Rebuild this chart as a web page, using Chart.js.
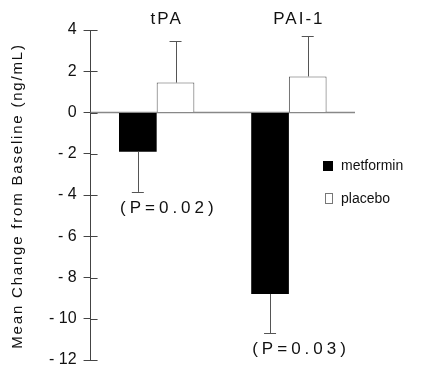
<!DOCTYPE html>
<html>
<head>
<meta charset="utf-8">
<script src="https://cdn.jsdelivr.net/npm/chart.js@4.4.1/dist/chart.umd.min.js"></script>
<style>
  html, body { margin: 0; padding: 0; background: #fff; }
  #wrap { width: 435px; height: 375px; position: relative; }
</style>
</head>
<body>
<div id="wrap"><canvas id="chart"></canvas></div>
<script>
// data
const categories = ["tPA", "PAI-1"];
const metforminMeans = [-1.9, -8.8];
const metforminErrors = [1.95, 1.9];
const placeboMeans = [1.45, 1.75];
const placeboErrors = [2.0, 1.95];
const pValueLabels = ["(P=0.02)", "(P=0.03)"];
const yMin = -12;
const yMax = 4;
const yStep = 2;
const yTitle = "Mean Change from Baseline (ng/mL)";

const FONT = "'Liberation Sans', Arial, Helvetica, sans-serif";
const AXIS_COLOR = "#444";

// error bars, p values, zero line, titles and legend
const annotations = {
  id: "annotations",
  beforeDatasetsDraw(chart) {
    const { ctx, chartArea, scales } = chart;
    const y0 = scales.y.getPixelForValue(0);
    ctx.save();
    ctx.strokeStyle = "#888";
    ctx.lineWidth = 1.5;
    ctx.beginPath();
    ctx.moveTo(chartArea.left, y0);
    ctx.lineTo(chartArea.right, y0);
    ctx.stroke();
    ctx.restore();
  },
  afterDatasetsDraw(chart) {
    const { ctx, chartArea, scales } = chart;
    const yScale = scales.y;
    const xScale = scales.x;
    ctx.save();

    // one-sided error bars
    chart.data.datasets.forEach((ds, di) => {
      const meta = chart.getDatasetMeta(di);
      meta.data.forEach((bar, i) => {
        const v = ds.data[i];
        const err = ds.errors[i];
        const end = v < 0 ? v - err : v + err;
        const yBar = yScale.getPixelForValue(v);
        const yEnd = yScale.getPixelForValue(end);
        ctx.strokeStyle = "#555";
        ctx.lineWidth = 1;
        ctx.beginPath();
        ctx.moveTo(Math.round(bar.x) + 0.5, yBar);
        ctx.lineTo(Math.round(bar.x) + 0.5, yEnd);
        ctx.moveTo(bar.x - 6, Math.round(yEnd) + 0.5);
        ctx.lineTo(bar.x + 6, Math.round(yEnd) + 0.5);
        ctx.stroke();

        if (ds.pLabels) {
          ctx.fillStyle = "#111";
          ctx.font = "17px " + FONT;
          ctx.letterSpacing = "4px";
          ctx.textAlign = "left";
          ctx.textBaseline = "middle";
          ctx.fillText(ds.pLabels[i], bar.x - bar.width / 2 + 1, yEnd + 16);
        }
      });
    });

    // inner half of the cross ticks on the y axis
    ctx.strokeStyle = AXIS_COLOR;
    ctx.lineWidth = 1;
    yScale.ticks.forEach((t) => {
      const y = Math.round(yScale.getPixelForValue(t.value)) + 0.5;
      ctx.beginPath();
      ctx.moveTo(chartArea.left, y);
      ctx.lineTo(chartArea.left + 7, y);
      ctx.stroke();
    });

    // group titles above the plot
    ctx.fillStyle = "#111";
    ctx.font = "17px " + FONT;
    ctx.letterSpacing = "2px";
    ctx.textAlign = "center";
    ctx.textBaseline = "middle";
    categories.forEach((c, i) => {
      ctx.fillText(c, xScale.getPixelForValue(i) + 10, 19);
    });

    // y axis title
    ctx.save();
    ctx.translate(18, 196);
    ctx.rotate(-Math.PI / 2);
    ctx.font = "15px " + FONT;
    ctx.letterSpacing = "1.8px";
    ctx.fillText(yTitle, 0, 0);
    ctx.restore();

    // legend
    ctx.font = "14px " + FONT;
    ctx.letterSpacing = "0px";
    ctx.textAlign = "left";
    const legendY = [166, 199];
    chart.data.datasets.forEach((ds, di) => {
      const ly = legendY[di];
      if (di === 0) {
        ctx.fillStyle = ds.backgroundColor;
        ctx.fillRect(323, ly - 5, 10, 10);
      } else {
        ctx.strokeStyle = "#777";
        ctx.strokeRect(325.5, ly - 5.5, 7, 10);
      }
      ctx.fillStyle = "#111";
      ctx.fillText(ds.label, 341, ly);
    });

    ctx.restore();
  },
};

new Chart(document.getElementById("chart"), {
  type: "bar",
  data: {
    labels: categories,
    datasets: [
      {
        label: "metformin",
        data: metforminMeans,
        errors: metforminErrors,
        pLabels: pValueLabels,
        backgroundColor: "#000",
        borderColor: "#000",
        borderWidth: 0,
      },
      {
        label: "placebo",
        data: placeboMeans,
        errors: placeboErrors,
        backgroundColor: "#fff",
        borderColor: "#555",
        borderWidth: 1,
        borderSkipped: "bottom",
      },
    ],
  },
  options: {
    responsive: true,
    maintainAspectRatio: false,
    animation: false,
    layout: { padding: { top: 30, bottom: 13, right: 80, left: 42 } },
    plugins: {
      legend: { display: false },
      tooltip: { enabled: false },
    },
    datasets: {
      bar: { barPercentage: 1, categoryPercentage: 0.57 },
    },
    scales: {
      x: {
        display: false,
        offset: true,
      },
      y: {
        min: yMin,
        max: yMax,
        border: { display: true, color: AXIS_COLOR, width: 1 },
        grid: {
          display: true,
          drawOnChartArea: false,
          drawTicks: true,
          tickLength: 7,
          tickColor: AXIS_COLOR,
        },
        ticks: {
          stepSize: yStep,
          color: "#111",
          padding: 7,
          font: { family: FONT, size: 16, lineHeight: 1 },
          callback: (v) => (v < 0 ? "- " + Math.abs(v) : String(v)),
        },
      },
    },
  },
  plugins: [annotations],
});
</script>
</body>
</html>
